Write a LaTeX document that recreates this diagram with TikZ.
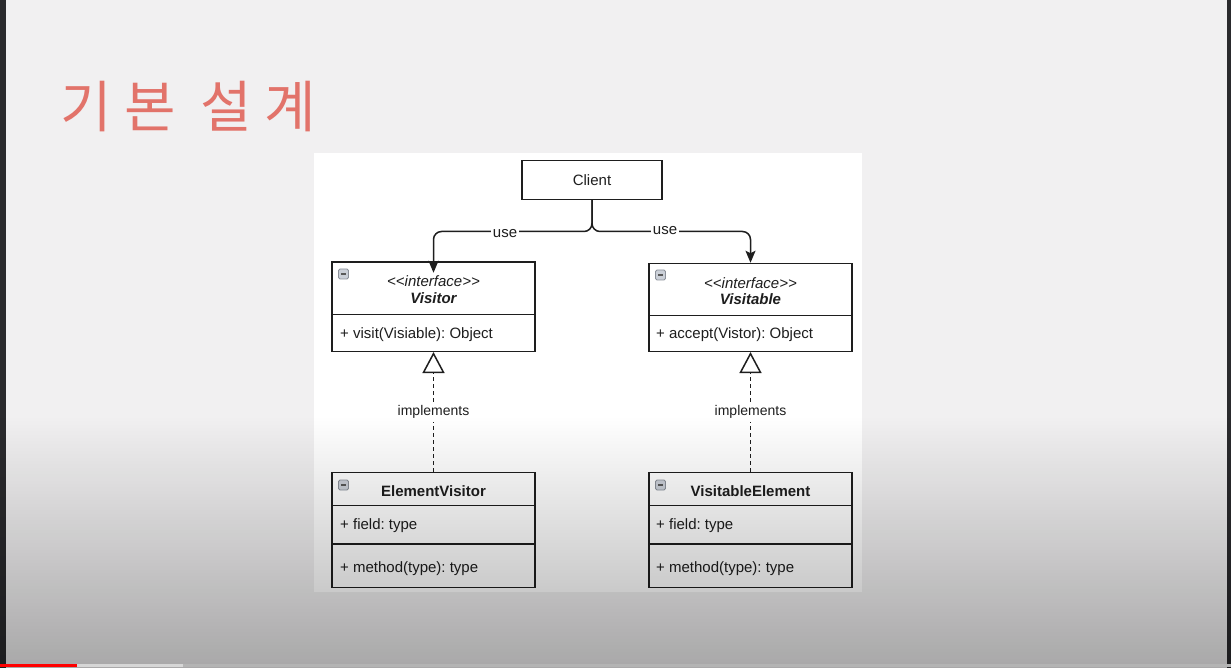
\documentclass[tikz,border=0pt]{standalone}
\usepackage{fontspec}
\setmainfont{Liberation Sans}
\newfontfamily\krfont{Noto Sans CJK KR}[LetterSpace=22]
\usetikzlibrary{arrows.meta}
\frenchspacing

\definecolor{ink}{HTML}{1E1E1E}
\definecolor{bgc}{HTML}{F1F0F1}
\definecolor{titlered}{HTML}{E2736A}
\definecolor{edgedark}{HTML}{2A2A2D}
\definecolor{iconfill}{HTML}{CBD0D8}
\definecolor{iconedge}{HTML}{8C919A}
\definecolor{barlight}{HTML}{D6D6D6}
\definecolor{barrest}{HTML}{B4B4B4}

\tikzset{
  umlbox/.style={draw=ink, line width=1.5pt, fill=white, inner sep=0pt, minimum width=203pt},
  divider/.style={draw=ink, line width=1.5pt},
  txt/.style={font=\fontsize{15}{18}\selectfont, text=ink, inner sep=0pt},
  titletxt/.style={font=\krfont\fontsize{56}{60}\selectfont, text=titlered, inner sep=0pt},
  usearrow/.style={draw=ink, line width=1.5pt, rounded corners=8pt,
    -{Stealth[length=12pt, width=10pt, inset=2.5pt]}},
  impl/.style={draw=ink, line width=1.5pt, dash pattern=on 4pt off 3pt,
    -{Triangle[open, length=21pt, width=22pt, fill=white]}},
  uselbl/.style={font=\fontsize{15}{18}\selectfont, text=ink, fill=white, inner sep=1.5pt},
  impllbl/.style={font=\fontsize{14}{17}\selectfont, text=ink, fill=white, inner xsep=1pt, inner ysep=3pt},
  collapseicon/.style={draw=iconedge, fill=iconfill, minimum size=10pt, inner sep=0pt,
    rounded corners=1.5pt, line width=0.8pt,
    path picture={\draw[line width=1.4pt, black!65]
      ([xshift=2.3pt]path picture bounding box.west) --
      ([xshift=-2.3pt]path picture bounding box.east);}},
}

\begin{document}
\begin{tikzpicture}[x=1pt, y=-1pt]
\useasboundingbox (0,0) rectangle (1231,668);
% background
\fill[bgc] (0,0) rectangle (1231,668);
\fill[edgedark] (0,0) rectangle (6,668);
\fill[edgedark] (1227,0) rectangle (1231,668);
\fill[white] (314,153) rectangle (862,592);

% title
\node[titletxt, anchor=base west] (title) at (60,127.5) {기본 설계};

% Client
\node[umlbox, minimum width=140pt, minimum height=38.6pt] (client) at (592,180) {};
\node[txt, anchor=base] (clienttxt) at (592,186) {Client};

% Visitor
\node[umlbox, minimum height=89.3pt] (visitor) at (433.5,306.65) {};
\draw[divider] (visitor.west |- 0,314.3) -- (visitor.east |- 0,314.3);
\node[collapseicon] (vicon) at (343.5,274) {};
\node[txt, anchor=base, font=\fontsize{15}{18}\selectfont\itshape] (vster) at (433.5,287)
  {\textless{}\textless{}interface\textgreater{}\textgreater{}};
\node[txt, anchor=base, font=\fontsize{15}{18}\selectfont\bfseries\itshape] (vname) at (433.5,303.5) {Visitor};
\node[txt, anchor=base west] (vop) at (340,338) {+ visit(Visiable): Object};

% Visitable
\node[umlbox, minimum height=87.8pt] (visitable) at (750.5,307.4) {};
\draw[divider] (visitable.west |- 0,315.7) -- (visitable.east |- 0,315.7);
\node[collapseicon] (ticon) at (660.5,275) {};
\node[txt, anchor=base, font=\fontsize{15}{18}\selectfont\itshape] (tster) at (750.5,288)
  {\textless{}\textless{}interface\textgreater{}\textgreater{}};
\node[txt, anchor=base, font=\fontsize{15}{18}\selectfont\bfseries\itshape] (tname) at (750.5,304.5) {Visitable};
\node[txt, anchor=base west] (top) at (656,338.5) {+ accept(Vistor): Object};

% ElementVisitor
\node[umlbox, minimum height=114.6pt] (evisitor) at (433.5,530) {};
\draw[divider] (evisitor.west |- 0,505.7) -- (evisitor.east |- 0,505.7);
\draw[divider] (evisitor.west |- 0,544) -- (evisitor.east |- 0,544);
\node[collapseicon] (eicon) at (343.5,485) {};
\node[txt, anchor=base, font=\fontsize{15}{18}\selectfont\bfseries] (ename) at (433.5,496.5) {ElementVisitor};
\node[txt, anchor=base west] (efield) at (340,529) {+ field: type};
\node[txt, anchor=base west] (emeth) at (340,572) {+ method(type): type};

% VisitableElement
\node[umlbox, minimum height=114.6pt] (velement) at (750.5,530) {};
\draw[divider] (velement.west |- 0,505.7) -- (velement.east |- 0,505.7);
\draw[divider] (velement.west |- 0,544) -- (velement.east |- 0,544);
\node[collapseicon] (wicon) at (660.5,485) {};
\node[txt, anchor=base, font=\fontsize{15}{18}\selectfont\bfseries] (wname) at (750.5,496.5) {VisitableElement};
\node[txt, anchor=base west] (wfield) at (656,529) {+ field: type};
\node[txt, anchor=base west] (wmeth) at (656,572) {+ method(type): type};

% use connectors
\draw[usearrow] (client.south) |- (visitor.north |- 0,231.5) -- ([yshift=-11.5pt]visitor.north);
\draw[usearrow] (client.south) |- (visitable.north |- 0,231.5) -- (visitable.north);
\node[uselbl] (use1) at (505,234) {use};
\node[uselbl] (use2) at (665,230.5) {use};

% realization connectors
\draw[impl] (evisitor.north) -- (visitor.south) node[midway, impllbl] (impl1) {implements};
\draw[impl] (velement.north) -- (visitable.south) node[midway, impllbl] (impl2) {implements};

% bottom darkening overlay
\shade[top color=white, bottom color=black!30, blend mode=multiply] (0,416) rectangle (1231,668);

% progress bar
\fill[barrest] (183,663.5) rectangle (1231,666.5);
\fill[barlight] (77,663.5) rectangle (183,666.5);
\fill[red] (0,663.5) rectangle (77,666.5);
\end{tikzpicture}
\end{document}
